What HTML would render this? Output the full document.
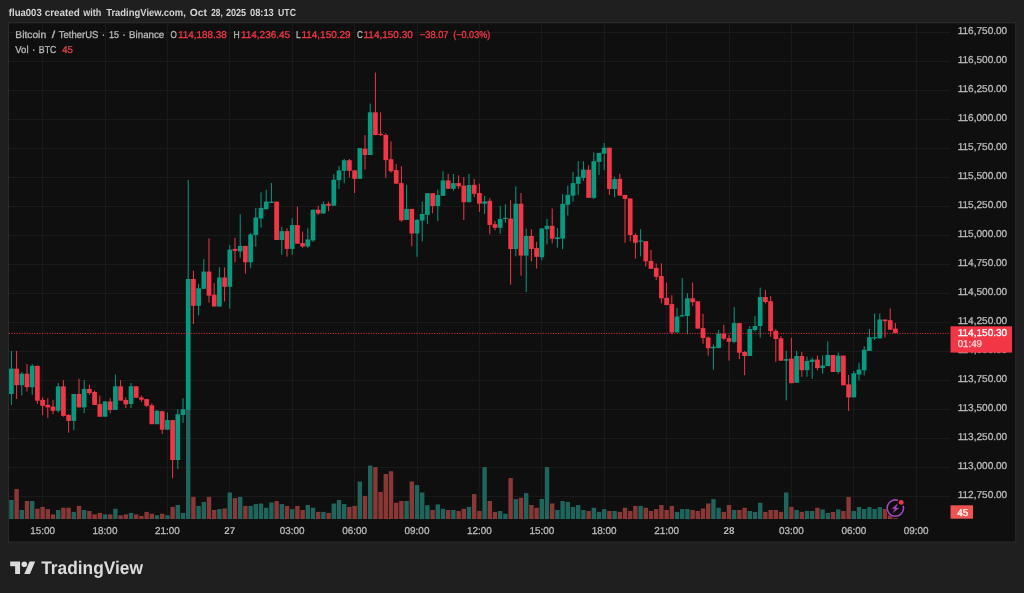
<!DOCTYPE html>
<html><head><meta charset="utf-8"><title>BTCUSDT chart</title>
<style>html,body{margin:0;padding:0;background:#1f1f1f;overflow:hidden}svg{display:block}text{font-family:"Liberation Sans",sans-serif;text-rendering:geometricPrecision}</style>
</head><body>
<svg width="1024" height="593" viewBox="0 0 1024 593">
<defs><filter id="soft" x="0" y="0" width="1024" height="593" filterUnits="userSpaceOnUse" color-interpolation-filters="sRGB"><feGaussianBlur stdDeviation="0.4"/></filter></defs>
<g filter="url(#soft)">
<rect x="-5" y="-5" width="1034" height="603" fill="#1f1f1f"/>
<rect x="8.4" y="22.8" width="1007.4" height="519.3" fill="#0f0f0f" stroke="#2e2e2e" stroke-width="1"/>
<g stroke="#1a1a1a" stroke-width="1" >
<line x1="9" y1="32.5" x2="950" y2="32.5"/>
<line x1="9" y1="61.5" x2="950" y2="61.5"/>
<line x1="9" y1="90.5" x2="950" y2="90.5"/>
<line x1="9" y1="119.5" x2="950" y2="119.5"/>
<line x1="9" y1="148.5" x2="950" y2="148.5"/>
<line x1="9" y1="177.5" x2="950" y2="177.5"/>
<line x1="9" y1="206.5" x2="950" y2="206.5"/>
<line x1="9" y1="235.5" x2="950" y2="235.5"/>
<line x1="9" y1="264.5" x2="950" y2="264.5"/>
<line x1="9" y1="293.5" x2="950" y2="293.5"/>
<line x1="9" y1="322.5" x2="950" y2="322.5"/>
<line x1="9" y1="351.5" x2="950" y2="351.5"/>
<line x1="9" y1="380.5" x2="950" y2="380.5"/>
<line x1="9" y1="409.5" x2="950" y2="409.5"/>
<line x1="9" y1="438.5" x2="950" y2="438.5"/>
<line x1="9" y1="467.5" x2="950" y2="467.5"/>
<line x1="9" y1="496.5" x2="950" y2="496.5"/>
<line x1="42.5" y1="24" x2="42.5" y2="519"/>
<line x1="105.5" y1="24" x2="105.5" y2="519"/>
<line x1="167.5" y1="24" x2="167.5" y2="519"/>
<line x1="229.5" y1="24" x2="229.5" y2="519"/>
<line x1="292.5" y1="24" x2="292.5" y2="519"/>
<line x1="354.5" y1="24" x2="354.5" y2="519"/>
<line x1="417.5" y1="24" x2="417.5" y2="519"/>
<line x1="479.5" y1="24" x2="479.5" y2="519"/>
<line x1="541.5" y1="24" x2="541.5" y2="519"/>
<line x1="604.5" y1="24" x2="604.5" y2="519"/>
<line x1="666.5" y1="24" x2="666.5" y2="519"/>
<line x1="729.5" y1="24" x2="729.5" y2="519"/>
<line x1="791.5" y1="24" x2="791.5" y2="519"/>
<line x1="853.5" y1="24" x2="853.5" y2="519"/>
<line x1="916.5" y1="24" x2="916.5" y2="519"/>
</g>
<g>
<rect x="9.20" y="500.00" width="4.40" height="19.00" fill="#1d655d"/>
<rect x="14.40" y="489.00" width="4.40" height="30.00" fill="#8a3836"/>
<rect x="19.60" y="510.00" width="4.40" height="9.00" fill="#1d655d"/>
<rect x="24.80" y="501.00" width="4.40" height="18.00" fill="#8a3836"/>
<rect x="30.00" y="501.00" width="4.40" height="18.00" fill="#1d655d"/>
<rect x="35.20" y="508.75" width="4.40" height="10.25" fill="#8a3836"/>
<rect x="40.40" y="506.90" width="4.40" height="12.10" fill="#8a3836"/>
<rect x="45.60" y="509.10" width="4.40" height="9.90" fill="#8a3836"/>
<rect x="50.80" y="514.40" width="4.40" height="4.60" fill="#8a3836"/>
<rect x="56.00" y="510.00" width="4.40" height="9.00" fill="#1d655d"/>
<rect x="61.20" y="507.75" width="4.40" height="11.25" fill="#8a3836"/>
<rect x="66.40" y="507.75" width="4.40" height="11.25" fill="#8a3836"/>
<rect x="71.60" y="511.90" width="4.40" height="7.10" fill="#1d655d"/>
<rect x="76.80" y="505.90" width="4.40" height="13.10" fill="#8a3836"/>
<rect x="82.00" y="510.00" width="4.40" height="9.00" fill="#1d655d"/>
<rect x="87.20" y="511.00" width="4.40" height="8.00" fill="#8a3836"/>
<rect x="92.40" y="514.40" width="4.40" height="4.60" fill="#8a3836"/>
<rect x="97.60" y="512.90" width="4.40" height="6.10" fill="#8a3836"/>
<rect x="102.80" y="514.40" width="4.40" height="4.60" fill="#1d655d"/>
<rect x="108.00" y="514.40" width="4.40" height="4.60" fill="#8a3836"/>
<rect x="113.20" y="508.75" width="4.40" height="10.25" fill="#1d655d"/>
<rect x="118.40" y="515.25" width="4.40" height="3.75" fill="#8a3836"/>
<rect x="123.60" y="514.40" width="4.40" height="4.60" fill="#8a3836"/>
<rect x="128.80" y="512.90" width="4.40" height="6.10" fill="#1d655d"/>
<rect x="134.00" y="514.40" width="4.40" height="4.60" fill="#8a3836"/>
<rect x="139.20" y="515.90" width="4.40" height="3.10" fill="#8a3836"/>
<rect x="144.40" y="511.90" width="4.40" height="7.10" fill="#8a3836"/>
<rect x="149.60" y="513.75" width="4.40" height="5.25" fill="#8a3836"/>
<rect x="154.80" y="515.25" width="4.40" height="3.75" fill="#1d655d"/>
<rect x="160.00" y="513.75" width="4.40" height="5.25" fill="#8a3836"/>
<rect x="165.20" y="515.25" width="4.40" height="3.75" fill="#1d655d"/>
<rect x="170.40" y="506.90" width="4.40" height="12.10" fill="#8a3836"/>
<rect x="175.60" y="505.00" width="4.40" height="14.00" fill="#1d655d"/>
<rect x="180.80" y="512.90" width="4.40" height="6.10" fill="#1d655d"/>
<rect x="186.00" y="410.00" width="4.40" height="109.00" fill="#1d655d"/>
<rect x="191.20" y="496.90" width="4.40" height="22.10" fill="#8a3836"/>
<rect x="196.40" y="505.90" width="4.40" height="13.10" fill="#1d655d"/>
<rect x="201.60" y="501.90" width="4.40" height="17.10" fill="#1d655d"/>
<rect x="206.80" y="496.90" width="4.40" height="22.10" fill="#8a3836"/>
<rect x="212.00" y="510.00" width="4.40" height="9.00" fill="#8a3836"/>
<rect x="217.20" y="509.10" width="4.40" height="9.90" fill="#1d655d"/>
<rect x="222.40" y="508.50" width="4.40" height="10.50" fill="#8a3836"/>
<rect x="227.60" y="492.50" width="4.40" height="26.50" fill="#1d655d"/>
<rect x="232.80" y="498.10" width="4.40" height="20.90" fill="#8a3836"/>
<rect x="238.00" y="496.90" width="4.40" height="22.10" fill="#1d655d"/>
<rect x="243.20" y="505.90" width="4.40" height="13.10" fill="#8a3836"/>
<rect x="248.40" y="505.90" width="4.40" height="13.10" fill="#1d655d"/>
<rect x="253.60" y="504.10" width="4.40" height="14.90" fill="#1d655d"/>
<rect x="258.80" y="503.50" width="4.40" height="15.50" fill="#1d655d"/>
<rect x="264.00" y="507.75" width="4.40" height="11.25" fill="#1d655d"/>
<rect x="269.20" y="502.50" width="4.40" height="16.50" fill="#1d655d"/>
<rect x="274.40" y="501.00" width="4.40" height="18.00" fill="#8a3836"/>
<rect x="279.60" y="504.10" width="4.40" height="14.90" fill="#1d655d"/>
<rect x="284.80" y="505.90" width="4.40" height="13.10" fill="#8a3836"/>
<rect x="290.00" y="509.10" width="4.40" height="9.90" fill="#1d655d"/>
<rect x="295.20" y="505.90" width="4.40" height="13.10" fill="#8a3836"/>
<rect x="300.40" y="510.00" width="4.40" height="9.00" fill="#8a3836"/>
<rect x="305.60" y="505.00" width="4.40" height="14.00" fill="#1d655d"/>
<rect x="310.80" y="507.75" width="4.40" height="11.25" fill="#1d655d"/>
<rect x="316.00" y="511.90" width="4.40" height="7.10" fill="#8a3836"/>
<rect x="321.20" y="511.90" width="4.40" height="7.10" fill="#1d655d"/>
<rect x="326.40" y="512.90" width="4.40" height="6.10" fill="#8a3836"/>
<rect x="331.60" y="503.50" width="4.40" height="15.50" fill="#1d655d"/>
<rect x="336.80" y="500.00" width="4.40" height="19.00" fill="#1d655d"/>
<rect x="342.00" y="504.10" width="4.40" height="14.90" fill="#1d655d"/>
<rect x="347.20" y="506.90" width="4.40" height="12.10" fill="#8a3836"/>
<rect x="352.40" y="505.90" width="4.40" height="13.10" fill="#8a3836"/>
<rect x="357.60" y="481.50" width="4.40" height="37.50" fill="#1d655d"/>
<rect x="362.80" y="495.90" width="4.40" height="23.10" fill="#8a3836"/>
<rect x="368.00" y="465.60" width="4.40" height="53.40" fill="#1d655d"/>
<rect x="373.20" y="467.10" width="4.40" height="51.90" fill="#8a3836"/>
<rect x="378.40" y="491.90" width="4.40" height="27.10" fill="#8a3836"/>
<rect x="383.60" y="474.00" width="4.40" height="45.00" fill="#8a3836"/>
<rect x="388.80" y="471.25" width="4.40" height="47.75" fill="#8a3836"/>
<rect x="394.00" y="502.75" width="4.40" height="16.25" fill="#8a3836"/>
<rect x="399.20" y="501.00" width="4.40" height="18.00" fill="#8a3836"/>
<rect x="404.40" y="501.00" width="4.40" height="18.00" fill="#1d655d"/>
<rect x="409.60" y="481.50" width="4.40" height="37.50" fill="#8a3836"/>
<rect x="414.80" y="485.00" width="4.40" height="34.00" fill="#1d655d"/>
<rect x="420.00" y="492.50" width="4.40" height="26.50" fill="#1d655d"/>
<rect x="425.20" y="505.25" width="4.40" height="13.75" fill="#1d655d"/>
<rect x="430.40" y="510.00" width="4.40" height="9.00" fill="#8a3836"/>
<rect x="435.60" y="504.40" width="4.40" height="14.60" fill="#1d655d"/>
<rect x="440.80" y="508.75" width="4.40" height="10.25" fill="#1d655d"/>
<rect x="446.00" y="510.00" width="4.40" height="9.00" fill="#8a3836"/>
<rect x="451.20" y="510.00" width="4.40" height="9.00" fill="#1d655d"/>
<rect x="456.40" y="511.00" width="4.40" height="8.00" fill="#8a3836"/>
<rect x="461.60" y="508.75" width="4.40" height="10.25" fill="#8a3836"/>
<rect x="466.80" y="506.90" width="4.40" height="12.10" fill="#1d655d"/>
<rect x="472.00" y="494.10" width="4.40" height="24.90" fill="#8a3836"/>
<rect x="477.20" y="511.00" width="4.40" height="8.00" fill="#8a3836"/>
<rect x="482.40" y="467.10" width="4.40" height="51.90" fill="#1d655d"/>
<rect x="487.60" y="501.00" width="4.40" height="18.00" fill="#8a3836"/>
<rect x="492.80" y="511.90" width="4.40" height="7.10" fill="#8a3836"/>
<rect x="498.00" y="511.00" width="4.40" height="8.00" fill="#1d655d"/>
<rect x="503.20" y="513.75" width="4.40" height="5.25" fill="#1d655d"/>
<rect x="508.40" y="478.10" width="4.40" height="40.90" fill="#8a3836"/>
<rect x="513.60" y="499.10" width="4.40" height="19.90" fill="#1d655d"/>
<rect x="518.80" y="497.75" width="4.40" height="21.25" fill="#8a3836"/>
<rect x="524.00" y="493.10" width="4.40" height="25.90" fill="#1d655d"/>
<rect x="529.20" y="505.00" width="4.40" height="14.00" fill="#8a3836"/>
<rect x="534.40" y="507.75" width="4.40" height="11.25" fill="#8a3836"/>
<rect x="539.60" y="499.00" width="4.40" height="20.00" fill="#1d655d"/>
<rect x="544.80" y="467.10" width="4.40" height="51.90" fill="#1d655d"/>
<rect x="550.00" y="503.50" width="4.40" height="15.50" fill="#8a3836"/>
<rect x="555.20" y="510.00" width="4.40" height="9.00" fill="#1d655d"/>
<rect x="560.40" y="501.00" width="4.40" height="18.00" fill="#1d655d"/>
<rect x="565.60" y="501.90" width="4.40" height="17.10" fill="#1d655d"/>
<rect x="570.80" y="506.90" width="4.40" height="12.10" fill="#1d655d"/>
<rect x="576.00" y="505.00" width="4.40" height="14.00" fill="#1d655d"/>
<rect x="581.20" y="510.00" width="4.40" height="9.00" fill="#1d655d"/>
<rect x="586.40" y="511.00" width="4.40" height="8.00" fill="#8a3836"/>
<rect x="591.60" y="507.75" width="4.40" height="11.25" fill="#1d655d"/>
<rect x="596.80" y="511.90" width="4.40" height="7.10" fill="#1d655d"/>
<rect x="602.00" y="509.10" width="4.40" height="9.90" fill="#1d655d"/>
<rect x="607.20" y="511.00" width="4.40" height="8.00" fill="#8a3836"/>
<rect x="612.40" y="511.00" width="4.40" height="8.00" fill="#1d655d"/>
<rect x="617.60" y="511.90" width="4.40" height="7.10" fill="#8a3836"/>
<rect x="622.80" y="507.75" width="4.40" height="11.25" fill="#8a3836"/>
<rect x="628.00" y="511.00" width="4.40" height="8.00" fill="#8a3836"/>
<rect x="633.20" y="505.90" width="4.40" height="13.10" fill="#8a3836"/>
<rect x="638.40" y="505.90" width="4.40" height="13.10" fill="#1d655d"/>
<rect x="643.60" y="507.75" width="4.40" height="11.25" fill="#8a3836"/>
<rect x="648.80" y="511.00" width="4.40" height="8.00" fill="#8a3836"/>
<rect x="654.00" y="509.10" width="4.40" height="9.90" fill="#8a3836"/>
<rect x="659.20" y="505.00" width="4.40" height="14.00" fill="#8a3836"/>
<rect x="664.40" y="510.00" width="4.40" height="9.00" fill="#8a3836"/>
<rect x="669.60" y="505.90" width="4.40" height="13.10" fill="#8a3836"/>
<rect x="674.80" y="511.90" width="4.40" height="7.10" fill="#1d655d"/>
<rect x="680.00" y="509.10" width="4.40" height="9.90" fill="#1d655d"/>
<rect x="685.20" y="509.10" width="4.40" height="9.90" fill="#1d655d"/>
<rect x="690.40" y="510.00" width="4.40" height="9.00" fill="#8a3836"/>
<rect x="695.60" y="511.00" width="4.40" height="8.00" fill="#8a3836"/>
<rect x="700.80" y="508.50" width="4.40" height="10.50" fill="#8a3836"/>
<rect x="706.00" y="503.50" width="4.40" height="15.50" fill="#8a3836"/>
<rect x="711.20" y="499.10" width="4.40" height="19.90" fill="#1d655d"/>
<rect x="716.40" y="507.75" width="4.40" height="11.25" fill="#1d655d"/>
<rect x="721.60" y="511.90" width="4.40" height="7.10" fill="#8a3836"/>
<rect x="726.80" y="505.00" width="4.40" height="14.00" fill="#8a3836"/>
<rect x="732.00" y="510.00" width="4.40" height="9.00" fill="#1d655d"/>
<rect x="737.20" y="510.00" width="4.40" height="9.00" fill="#8a3836"/>
<rect x="742.40" y="507.75" width="4.40" height="11.25" fill="#8a3836"/>
<rect x="747.60" y="511.00" width="4.40" height="8.00" fill="#1d655d"/>
<rect x="752.80" y="511.90" width="4.40" height="7.10" fill="#1d655d"/>
<rect x="758.00" y="502.75" width="4.40" height="16.25" fill="#1d655d"/>
<rect x="763.20" y="511.90" width="4.40" height="7.10" fill="#8a3836"/>
<rect x="768.40" y="510.00" width="4.40" height="9.00" fill="#8a3836"/>
<rect x="773.60" y="510.00" width="4.40" height="9.00" fill="#8a3836"/>
<rect x="778.80" y="511.90" width="4.40" height="7.10" fill="#8a3836"/>
<rect x="784.00" y="492.50" width="4.40" height="26.50" fill="#1d655d"/>
<rect x="789.20" y="506.90" width="4.40" height="12.10" fill="#8a3836"/>
<rect x="794.40" y="510.00" width="4.40" height="9.00" fill="#1d655d"/>
<rect x="799.60" y="511.90" width="4.40" height="7.10" fill="#8a3836"/>
<rect x="804.80" y="511.00" width="4.40" height="8.00" fill="#1d655d"/>
<rect x="810.00" y="511.00" width="4.40" height="8.00" fill="#1d655d"/>
<rect x="815.20" y="507.75" width="4.40" height="11.25" fill="#8a3836"/>
<rect x="820.40" y="509.40" width="4.40" height="9.60" fill="#1d655d"/>
<rect x="825.60" y="513.00" width="4.40" height="6.00" fill="#1d655d"/>
<rect x="830.80" y="512.00" width="4.40" height="7.00" fill="#8a3836"/>
<rect x="836.00" y="509.40" width="4.40" height="9.60" fill="#1d655d"/>
<rect x="841.20" y="511.00" width="4.40" height="8.00" fill="#8a3836"/>
<rect x="846.40" y="497.00" width="4.40" height="22.00" fill="#8a3836"/>
<rect x="851.60" y="511.00" width="4.40" height="8.00" fill="#1d655d"/>
<rect x="856.80" y="507.00" width="4.40" height="12.00" fill="#1d655d"/>
<rect x="862.00" y="509.00" width="4.40" height="10.00" fill="#1d655d"/>
<rect x="867.20" y="507.10" width="4.40" height="11.90" fill="#1d655d"/>
<rect x="872.40" y="509.00" width="4.40" height="10.00" fill="#1d655d"/>
<rect x="877.60" y="507.10" width="4.40" height="11.90" fill="#1d655d"/>
<rect x="882.80" y="509.00" width="4.40" height="10.00" fill="#8a3836"/>
<rect x="888.00" y="515.25" width="4.40" height="3.75" fill="#8a3836"/>
<rect x="893.20" y="518.10" width="4.40" height="0.90" fill="#8a3836"/>
</g>
<g>
<rect x="10.90" y="351.00" width="1" height="54.00" fill="#089981"/>
<rect x="9.05" y="368.70" width="4.70" height="25.30" fill="#089981"/>
<rect x="16.10" y="351.00" width="1" height="48.00" fill="#f23645"/>
<rect x="14.25" y="368.70" width="4.70" height="16.50" fill="#f23645"/>
<rect x="21.30" y="372.00" width="1" height="23.60" fill="#089981"/>
<rect x="19.45" y="373.70" width="4.70" height="11.50" fill="#089981"/>
<rect x="26.50" y="364.00" width="1" height="27.40" fill="#f23645"/>
<rect x="24.65" y="373.70" width="4.70" height="13.50" fill="#f23645"/>
<rect x="31.70" y="364.00" width="1" height="30.80" fill="#089981"/>
<rect x="29.85" y="365.80" width="4.70" height="21.40" fill="#089981"/>
<rect x="36.90" y="365.80" width="1" height="38.20" fill="#f23645"/>
<rect x="35.05" y="365.80" width="4.70" height="34.90" fill="#f23645"/>
<rect x="42.10" y="397.30" width="1" height="17.70" fill="#f23645"/>
<rect x="40.25" y="399.90" width="4.70" height="5.90" fill="#f23645"/>
<rect x="47.30" y="398.20" width="1" height="19.70" fill="#f23645"/>
<rect x="45.45" y="404.90" width="4.70" height="2.50" fill="#f23645"/>
<rect x="52.50" y="399.90" width="1" height="14.30" fill="#f23645"/>
<rect x="50.65" y="406.60" width="4.70" height="4.20" fill="#f23645"/>
<rect x="57.70" y="383.00" width="1" height="29.50" fill="#089981"/>
<rect x="55.85" y="386.40" width="4.70" height="24.40" fill="#089981"/>
<rect x="62.90" y="380.10" width="1" height="36.60" fill="#f23645"/>
<rect x="61.05" y="386.40" width="4.70" height="29.50" fill="#f23645"/>
<rect x="68.10" y="414.20" width="1" height="18.50" fill="#f23645"/>
<rect x="66.25" y="415.00" width="4.70" height="5.90" fill="#f23645"/>
<rect x="73.30" y="394.00" width="1" height="36.20" fill="#089981"/>
<rect x="71.45" y="394.00" width="4.70" height="26.90" fill="#089981"/>
<rect x="78.50" y="378.80" width="1" height="28.60" fill="#f23645"/>
<rect x="76.65" y="394.00" width="4.70" height="13.40" fill="#f23645"/>
<rect x="83.70" y="380.10" width="1" height="33.20" fill="#089981"/>
<rect x="81.85" y="388.90" width="4.70" height="18.50" fill="#089981"/>
<rect x="88.90" y="384.70" width="1" height="10.10" fill="#f23645"/>
<rect x="87.05" y="388.90" width="4.70" height="4.20" fill="#f23645"/>
<rect x="94.10" y="390.60" width="1" height="14.30" fill="#f23645"/>
<rect x="92.25" y="391.90" width="4.70" height="13.00" fill="#f23645"/>
<rect x="99.30" y="395.60" width="1" height="21.10" fill="#f23645"/>
<rect x="97.45" y="404.10" width="4.70" height="12.60" fill="#f23645"/>
<rect x="104.50" y="401.00" width="1" height="15.70" fill="#089981"/>
<rect x="102.65" y="401.50" width="4.70" height="15.20" fill="#089981"/>
<rect x="109.70" y="398.20" width="1" height="15.10" fill="#f23645"/>
<rect x="107.85" y="401.50" width="4.70" height="8.50" fill="#f23645"/>
<rect x="114.90" y="374.60" width="1" height="35.30" fill="#089981"/>
<rect x="113.05" y="386.30" width="4.70" height="23.60" fill="#089981"/>
<rect x="120.10" y="380.20" width="1" height="20.40" fill="#f23645"/>
<rect x="118.25" y="386.30" width="4.70" height="14.30" fill="#f23645"/>
<rect x="125.30" y="397.50" width="1" height="10.50" fill="#f23645"/>
<rect x="123.45" y="400.00" width="4.70" height="4.30" fill="#f23645"/>
<rect x="130.50" y="383.00" width="1" height="25.00" fill="#089981"/>
<rect x="128.65" y="386.30" width="4.70" height="17.70" fill="#089981"/>
<rect x="135.70" y="386.30" width="1" height="11.50" fill="#f23645"/>
<rect x="133.85" y="386.30" width="4.70" height="11.50" fill="#f23645"/>
<rect x="140.90" y="395.60" width="1" height="6.40" fill="#f23645"/>
<rect x="139.05" y="397.50" width="4.70" height="2.20" fill="#f23645"/>
<rect x="146.10" y="398.80" width="1" height="8.30" fill="#f23645"/>
<rect x="144.25" y="399.10" width="4.70" height="6.70" fill="#f23645"/>
<rect x="151.30" y="403.40" width="1" height="20.80" fill="#f23645"/>
<rect x="149.45" y="405.30" width="4.70" height="18.90" fill="#f23645"/>
<rect x="156.50" y="409.90" width="1" height="14.30" fill="#089981"/>
<rect x="154.65" y="410.80" width="4.70" height="13.40" fill="#089981"/>
<rect x="161.70" y="410.80" width="1" height="23.20" fill="#f23645"/>
<rect x="159.85" y="411.20" width="4.70" height="18.50" fill="#f23645"/>
<rect x="166.90" y="412.30" width="1" height="17.40" fill="#089981"/>
<rect x="165.05" y="420.10" width="4.70" height="9.60" fill="#089981"/>
<rect x="172.10" y="420.10" width="1" height="58.10" fill="#f23645"/>
<rect x="170.25" y="420.10" width="4.70" height="39.90" fill="#f23645"/>
<rect x="177.30" y="409.00" width="1" height="59.90" fill="#089981"/>
<rect x="175.45" y="414.20" width="4.70" height="45.80" fill="#089981"/>
<rect x="182.50" y="398.20" width="1" height="24.70" fill="#089981"/>
<rect x="180.65" y="409.30" width="4.70" height="5.60" fill="#089981"/>
<rect x="187.70" y="180.10" width="1" height="229.80" fill="#089981"/>
<rect x="185.85" y="279.00" width="4.70" height="130.90" fill="#089981"/>
<rect x="192.90" y="270.70" width="1" height="53.30" fill="#f23645"/>
<rect x="191.05" y="279.00" width="4.70" height="26.80" fill="#f23645"/>
<rect x="198.10" y="283.80" width="1" height="31.60" fill="#089981"/>
<rect x="196.25" y="288.30" width="4.70" height="17.50" fill="#089981"/>
<rect x="203.30" y="259.00" width="1" height="29.80" fill="#089981"/>
<rect x="201.45" y="271.60" width="4.70" height="17.20" fill="#089981"/>
<rect x="208.50" y="238.30" width="1" height="64.40" fill="#f23645"/>
<rect x="206.65" y="271.60" width="4.70" height="24.10" fill="#f23645"/>
<rect x="213.70" y="283.30" width="1" height="23.20" fill="#f23645"/>
<rect x="211.85" y="294.70" width="4.70" height="11.80" fill="#f23645"/>
<rect x="218.90" y="267.30" width="1" height="39.20" fill="#089981"/>
<rect x="217.05" y="277.50" width="4.70" height="29.00" fill="#089981"/>
<rect x="224.10" y="267.30" width="1" height="34.20" fill="#f23645"/>
<rect x="222.25" y="277.50" width="4.70" height="9.30" fill="#f23645"/>
<rect x="229.30" y="245.10" width="1" height="63.50" fill="#089981"/>
<rect x="227.45" y="249.60" width="4.70" height="37.20" fill="#089981"/>
<rect x="234.50" y="237.80" width="1" height="24.50" fill="#f23645"/>
<rect x="232.65" y="248.90" width="4.70" height="2.00" fill="#f23645"/>
<rect x="239.70" y="214.20" width="1" height="43.50" fill="#089981"/>
<rect x="237.85" y="245.90" width="4.70" height="5.50" fill="#089981"/>
<rect x="244.90" y="245.90" width="1" height="27.80" fill="#f23645"/>
<rect x="243.05" y="245.90" width="4.70" height="16.40" fill="#f23645"/>
<rect x="250.10" y="233.20" width="1" height="34.90" fill="#089981"/>
<rect x="248.25" y="234.50" width="4.70" height="27.80" fill="#089981"/>
<rect x="255.30" y="207.90" width="1" height="38.70" fill="#089981"/>
<rect x="253.45" y="217.50" width="4.70" height="17.50" fill="#089981"/>
<rect x="260.50" y="192.30" width="1" height="35.30" fill="#089981"/>
<rect x="258.65" y="207.90" width="4.70" height="10.60" fill="#089981"/>
<rect x="265.70" y="189.70" width="1" height="19.50" fill="#089981"/>
<rect x="263.85" y="201.60" width="4.70" height="7.60" fill="#089981"/>
<rect x="270.90" y="183.00" width="1" height="19.90" fill="#089981"/>
<rect x="269.05" y="201.60" width="4.70" height="1.30" fill="#089981"/>
<rect x="276.10" y="201.60" width="1" height="38.40" fill="#f23645"/>
<rect x="274.25" y="201.60" width="4.70" height="38.40" fill="#f23645"/>
<rect x="281.30" y="227.00" width="1" height="27.80" fill="#089981"/>
<rect x="279.45" y="231.10" width="4.70" height="8.90" fill="#089981"/>
<rect x="286.50" y="228.30" width="1" height="28.40" fill="#f23645"/>
<rect x="284.65" y="231.10" width="4.70" height="17.80" fill="#f23645"/>
<rect x="291.70" y="218.30" width="1" height="36.50" fill="#089981"/>
<rect x="289.85" y="225.10" width="4.70" height="23.80" fill="#089981"/>
<rect x="296.90" y="206.60" width="1" height="37.10" fill="#f23645"/>
<rect x="295.05" y="225.10" width="4.70" height="18.60" fill="#f23645"/>
<rect x="302.10" y="231.60" width="1" height="16.20" fill="#f23645"/>
<rect x="300.25" y="243.10" width="4.70" height="3.40" fill="#f23645"/>
<rect x="307.30" y="228.30" width="1" height="19.50" fill="#089981"/>
<rect x="305.45" y="239.40" width="4.70" height="7.10" fill="#089981"/>
<rect x="312.50" y="209.70" width="1" height="32.10" fill="#089981"/>
<rect x="310.65" y="209.70" width="4.70" height="30.70" fill="#089981"/>
<rect x="317.70" y="205.70" width="1" height="9.20" fill="#f23645"/>
<rect x="315.85" y="209.70" width="4.70" height="3.80" fill="#f23645"/>
<rect x="322.90" y="201.60" width="1" height="11.90" fill="#089981"/>
<rect x="321.05" y="204.20" width="4.70" height="9.30" fill="#089981"/>
<rect x="328.10" y="201.60" width="1" height="9.60" fill="#f23645"/>
<rect x="326.25" y="203.80" width="4.70" height="1.90" fill="#f23645"/>
<rect x="333.30" y="174.10" width="1" height="31.60" fill="#089981"/>
<rect x="331.45" y="179.70" width="4.70" height="26.00" fill="#089981"/>
<rect x="338.50" y="165.80" width="1" height="23.20" fill="#089981"/>
<rect x="336.65" y="170.40" width="4.70" height="9.80" fill="#089981"/>
<rect x="343.70" y="158.90" width="1" height="24.50" fill="#089981"/>
<rect x="341.85" y="160.20" width="4.70" height="10.60" fill="#089981"/>
<rect x="348.90" y="158.90" width="1" height="18.60" fill="#f23645"/>
<rect x="347.05" y="160.20" width="4.70" height="10.60" fill="#f23645"/>
<rect x="354.10" y="170.00" width="1" height="23.00" fill="#f23645"/>
<rect x="352.25" y="170.40" width="4.70" height="8.40" fill="#f23645"/>
<rect x="359.30" y="148.10" width="1" height="30.70" fill="#089981"/>
<rect x="357.45" y="148.10" width="4.70" height="30.70" fill="#089981"/>
<rect x="364.50" y="135.10" width="1" height="34.40" fill="#f23645"/>
<rect x="362.65" y="148.70" width="4.70" height="6.30" fill="#f23645"/>
<rect x="369.70" y="103.60" width="1" height="51.40" fill="#089981"/>
<rect x="367.85" y="112.30" width="4.70" height="42.70" fill="#089981"/>
<rect x="374.90" y="72.60" width="1" height="62.50" fill="#f23645"/>
<rect x="373.05" y="112.30" width="4.70" height="22.80" fill="#f23645"/>
<rect x="380.10" y="112.30" width="1" height="23.40" fill="#f23645"/>
<rect x="378.25" y="133.80" width="4.70" height="1.30" fill="#f23645"/>
<rect x="385.30" y="133.30" width="1" height="44.50" fill="#f23645"/>
<rect x="383.45" y="135.00" width="4.70" height="25.10" fill="#f23645"/>
<rect x="390.50" y="141.50" width="1" height="31.30" fill="#f23645"/>
<rect x="388.65" y="159.20" width="4.70" height="12.00" fill="#f23645"/>
<rect x="395.70" y="164.10" width="1" height="19.60" fill="#f23645"/>
<rect x="393.85" y="170.10" width="4.70" height="13.60" fill="#f23645"/>
<rect x="400.90" y="166.20" width="1" height="55.50" fill="#f23645"/>
<rect x="399.05" y="183.10" width="4.70" height="37.30" fill="#f23645"/>
<rect x="406.10" y="184.80" width="1" height="35.10" fill="#089981"/>
<rect x="404.25" y="208.90" width="4.70" height="11.00" fill="#089981"/>
<rect x="411.30" y="208.90" width="1" height="37.30" fill="#f23645"/>
<rect x="409.45" y="208.90" width="4.70" height="24.60" fill="#f23645"/>
<rect x="416.50" y="219.00" width="1" height="37.80" fill="#089981"/>
<rect x="414.65" y="219.90" width="4.70" height="13.60" fill="#089981"/>
<rect x="421.70" y="201.30" width="1" height="40.10" fill="#089981"/>
<rect x="419.85" y="214.00" width="4.70" height="6.60" fill="#089981"/>
<rect x="426.90" y="193.20" width="1" height="30.70" fill="#089981"/>
<rect x="425.05" y="193.20" width="4.70" height="21.70" fill="#089981"/>
<rect x="432.10" y="193.20" width="1" height="20.10" fill="#f23645"/>
<rect x="430.25" y="193.20" width="4.70" height="12.90" fill="#f23645"/>
<rect x="437.30" y="189.60" width="1" height="31.40" fill="#089981"/>
<rect x="435.45" y="195.10" width="4.70" height="11.00" fill="#089981"/>
<rect x="442.50" y="171.20" width="1" height="24.60" fill="#089981"/>
<rect x="440.65" y="180.40" width="4.70" height="15.40" fill="#089981"/>
<rect x="447.70" y="173.90" width="1" height="14.90" fill="#f23645"/>
<rect x="445.85" y="180.40" width="4.70" height="8.40" fill="#f23645"/>
<rect x="452.90" y="174.00" width="1" height="16.80" fill="#089981"/>
<rect x="451.05" y="183.10" width="4.70" height="5.70" fill="#089981"/>
<rect x="458.10" y="175.30" width="1" height="13.70" fill="#f23645"/>
<rect x="456.25" y="183.10" width="4.70" height="3.20" fill="#f23645"/>
<rect x="463.30" y="177.00" width="1" height="43.00" fill="#f23645"/>
<rect x="461.45" y="185.70" width="4.70" height="16.50" fill="#f23645"/>
<rect x="468.50" y="173.80" width="1" height="28.40" fill="#089981"/>
<rect x="466.65" y="185.00" width="4.70" height="17.20" fill="#089981"/>
<rect x="473.70" y="178.90" width="1" height="18.40" fill="#f23645"/>
<rect x="471.85" y="184.80" width="4.70" height="9.00" fill="#f23645"/>
<rect x="478.90" y="183.60" width="1" height="28.30" fill="#f23645"/>
<rect x="477.05" y="193.00" width="4.70" height="10.70" fill="#f23645"/>
<rect x="484.10" y="195.90" width="1" height="17.90" fill="#089981"/>
<rect x="482.25" y="201.30" width="4.70" height="2.40" fill="#089981"/>
<rect x="489.30" y="198.20" width="1" height="36.20" fill="#f23645"/>
<rect x="487.45" y="200.80" width="4.70" height="24.10" fill="#f23645"/>
<rect x="494.50" y="220.90" width="1" height="9.20" fill="#f23645"/>
<rect x="492.65" y="224.20" width="4.70" height="3.60" fill="#f23645"/>
<rect x="499.70" y="206.00" width="1" height="27.70" fill="#089981"/>
<rect x="497.85" y="219.00" width="4.70" height="8.80" fill="#089981"/>
<rect x="504.90" y="204.10" width="1" height="18.50" fill="#089981"/>
<rect x="503.05" y="217.80" width="4.70" height="1.20" fill="#089981"/>
<rect x="510.10" y="200.10" width="1" height="84.50" fill="#f23645"/>
<rect x="508.25" y="218.50" width="4.70" height="30.50" fill="#f23645"/>
<rect x="515.30" y="186.40" width="1" height="69.90" fill="#089981"/>
<rect x="513.45" y="203.70" width="4.70" height="45.30" fill="#089981"/>
<rect x="520.50" y="193.00" width="1" height="82.70" fill="#f23645"/>
<rect x="518.65" y="203.70" width="4.70" height="51.90" fill="#f23645"/>
<rect x="525.70" y="228.50" width="1" height="63.70" fill="#089981"/>
<rect x="523.85" y="236.00" width="4.70" height="19.60" fill="#089981"/>
<rect x="530.90" y="229.20" width="1" height="32.30" fill="#f23645"/>
<rect x="529.05" y="236.00" width="4.70" height="13.00" fill="#f23645"/>
<rect x="536.10" y="241.90" width="1" height="26.70" fill="#f23645"/>
<rect x="534.25" y="248.10" width="4.70" height="8.70" fill="#f23645"/>
<rect x="541.30" y="228.00" width="1" height="32.30" fill="#089981"/>
<rect x="539.45" y="228.50" width="4.70" height="28.80" fill="#089981"/>
<rect x="546.50" y="219.00" width="1" height="25.40" fill="#089981"/>
<rect x="544.65" y="225.80" width="4.70" height="3.40" fill="#089981"/>
<rect x="551.70" y="208.50" width="1" height="35.00" fill="#f23645"/>
<rect x="549.85" y="225.80" width="4.70" height="12.80" fill="#f23645"/>
<rect x="556.90" y="228.00" width="1" height="19.70" fill="#089981"/>
<rect x="555.05" y="237.40" width="4.70" height="1.70" fill="#089981"/>
<rect x="562.10" y="194.20" width="1" height="55.00" fill="#089981"/>
<rect x="560.25" y="203.90" width="4.70" height="34.70" fill="#089981"/>
<rect x="567.30" y="185.50" width="1" height="30.00" fill="#089981"/>
<rect x="565.45" y="194.90" width="4.70" height="9.90" fill="#089981"/>
<rect x="572.50" y="172.00" width="1" height="29.50" fill="#089981"/>
<rect x="570.65" y="183.10" width="4.70" height="12.50" fill="#089981"/>
<rect x="577.70" y="161.20" width="1" height="33.70" fill="#089981"/>
<rect x="575.85" y="176.70" width="4.70" height="7.10" fill="#089981"/>
<rect x="582.90" y="161.20" width="1" height="19.60" fill="#089981"/>
<rect x="581.05" y="169.70" width="4.70" height="8.20" fill="#089981"/>
<rect x="588.10" y="165.40" width="1" height="32.40" fill="#f23645"/>
<rect x="586.25" y="169.70" width="4.70" height="28.10" fill="#f23645"/>
<rect x="593.30" y="152.40" width="1" height="46.60" fill="#089981"/>
<rect x="591.45" y="161.20" width="4.70" height="36.60" fill="#089981"/>
<rect x="598.50" y="152.90" width="1" height="22.00" fill="#089981"/>
<rect x="596.65" y="152.90" width="4.70" height="9.00" fill="#089981"/>
<rect x="603.70" y="143.00" width="1" height="27.10" fill="#089981"/>
<rect x="601.85" y="147.70" width="4.70" height="5.90" fill="#089981"/>
<rect x="608.90" y="147.70" width="1" height="47.20" fill="#f23645"/>
<rect x="607.05" y="147.70" width="4.70" height="41.30" fill="#f23645"/>
<rect x="614.10" y="176.70" width="1" height="20.60" fill="#089981"/>
<rect x="612.25" y="179.10" width="4.70" height="9.90" fill="#089981"/>
<rect x="619.30" y="173.70" width="1" height="21.90" fill="#f23645"/>
<rect x="617.45" y="178.90" width="4.70" height="16.70" fill="#f23645"/>
<rect x="624.50" y="194.90" width="1" height="47.90" fill="#f23645"/>
<rect x="622.65" y="194.90" width="4.70" height="4.00" fill="#f23645"/>
<rect x="629.70" y="198.50" width="1" height="42.90" fill="#f23645"/>
<rect x="627.85" y="198.50" width="4.70" height="36.50" fill="#f23645"/>
<rect x="634.90" y="233.40" width="1" height="25.30" fill="#f23645"/>
<rect x="633.05" y="235.00" width="4.70" height="7.80" fill="#f23645"/>
<rect x="640.10" y="229.20" width="1" height="27.10" fill="#089981"/>
<rect x="638.25" y="240.50" width="4.70" height="1.20" fill="#089981"/>
<rect x="645.30" y="241.00" width="1" height="25.50" fill="#f23645"/>
<rect x="643.45" y="241.20" width="4.70" height="20.10" fill="#f23645"/>
<rect x="650.50" y="250.00" width="1" height="18.80" fill="#f23645"/>
<rect x="648.65" y="260.90" width="4.70" height="7.90" fill="#f23645"/>
<rect x="655.70" y="263.40" width="1" height="16.40" fill="#f23645"/>
<rect x="653.85" y="267.90" width="4.70" height="8.90" fill="#f23645"/>
<rect x="660.90" y="263.40" width="1" height="39.90" fill="#f23645"/>
<rect x="659.05" y="276.00" width="4.70" height="22.30" fill="#f23645"/>
<rect x="666.10" y="282.60" width="1" height="22.50" fill="#f23645"/>
<rect x="664.25" y="297.80" width="4.70" height="7.30" fill="#f23645"/>
<rect x="671.30" y="295.20" width="1" height="39.00" fill="#f23645"/>
<rect x="669.45" y="304.10" width="4.70" height="28.30" fill="#f23645"/>
<rect x="676.50" y="307.90" width="1" height="24.50" fill="#089981"/>
<rect x="674.65" y="316.50" width="4.70" height="15.90" fill="#089981"/>
<rect x="681.70" y="278.00" width="1" height="38.50" fill="#089981"/>
<rect x="679.85" y="315.20" width="4.70" height="1.30" fill="#089981"/>
<rect x="686.90" y="293.20" width="1" height="41.00" fill="#089981"/>
<rect x="685.05" y="298.30" width="4.70" height="17.70" fill="#089981"/>
<rect x="692.10" y="282.60" width="1" height="23.30" fill="#f23645"/>
<rect x="690.25" y="298.30" width="4.70" height="3.80" fill="#f23645"/>
<rect x="697.30" y="301.30" width="1" height="27.30" fill="#f23645"/>
<rect x="695.45" y="301.30" width="4.70" height="27.30" fill="#f23645"/>
<rect x="702.50" y="313.90" width="1" height="29.90" fill="#f23645"/>
<rect x="700.65" y="328.10" width="4.70" height="9.90" fill="#f23645"/>
<rect x="707.70" y="336.50" width="1" height="19.20" fill="#f23645"/>
<rect x="705.85" y="337.50" width="4.70" height="10.80" fill="#f23645"/>
<rect x="712.90" y="344.30" width="1" height="25.50" fill="#089981"/>
<rect x="711.05" y="346.80" width="4.70" height="1.50" fill="#089981"/>
<rect x="718.10" y="329.90" width="1" height="18.20" fill="#089981"/>
<rect x="716.25" y="333.70" width="4.70" height="14.40" fill="#089981"/>
<rect x="723.30" y="324.80" width="1" height="15.20" fill="#f23645"/>
<rect x="721.45" y="333.70" width="4.70" height="5.00" fill="#f23645"/>
<rect x="728.50" y="334.90" width="1" height="25.80" fill="#f23645"/>
<rect x="726.65" y="338.20" width="4.70" height="3.60" fill="#f23645"/>
<rect x="733.70" y="307.10" width="1" height="36.20" fill="#089981"/>
<rect x="731.85" y="323.10" width="4.70" height="18.80" fill="#089981"/>
<rect x="738.90" y="323.10" width="1" height="36.00" fill="#f23645"/>
<rect x="737.05" y="323.10" width="4.70" height="29.60" fill="#f23645"/>
<rect x="744.10" y="350.90" width="1" height="24.30" fill="#f23645"/>
<rect x="742.25" y="352.00" width="4.70" height="4.00" fill="#f23645"/>
<rect x="749.30" y="326.00" width="1" height="30.00" fill="#089981"/>
<rect x="747.45" y="329.10" width="4.70" height="26.90" fill="#089981"/>
<rect x="754.50" y="316.10" width="1" height="15.40" fill="#089981"/>
<rect x="752.65" y="326.00" width="4.70" height="4.00" fill="#089981"/>
<rect x="759.70" y="287.60" width="1" height="50.20" fill="#089981"/>
<rect x="757.85" y="297.00" width="4.70" height="29.00" fill="#089981"/>
<rect x="764.90" y="289.90" width="1" height="13.70" fill="#f23645"/>
<rect x="763.05" y="297.00" width="4.70" height="5.00" fill="#f23645"/>
<rect x="770.10" y="296.10" width="1" height="40.60" fill="#f23645"/>
<rect x="768.25" y="301.20" width="4.70" height="30.00" fill="#f23645"/>
<rect x="775.30" y="329.10" width="1" height="32.80" fill="#f23645"/>
<rect x="773.45" y="330.80" width="4.70" height="8.20" fill="#f23645"/>
<rect x="780.50" y="336.20" width="1" height="24.50" fill="#f23645"/>
<rect x="778.65" y="338.30" width="4.70" height="22.40" fill="#f23645"/>
<rect x="785.70" y="350.80" width="1" height="49.60" fill="#089981"/>
<rect x="783.85" y="359.10" width="4.70" height="1.60" fill="#089981"/>
<rect x="790.90" y="337.80" width="1" height="45.40" fill="#f23645"/>
<rect x="789.05" y="358.60" width="4.70" height="24.60" fill="#f23645"/>
<rect x="796.10" y="350.80" width="1" height="31.90" fill="#089981"/>
<rect x="794.25" y="356.00" width="4.70" height="26.70" fill="#089981"/>
<rect x="801.30" y="352.00" width="1" height="24.80" fill="#f23645"/>
<rect x="799.45" y="356.00" width="4.70" height="14.20" fill="#f23645"/>
<rect x="806.50" y="356.70" width="1" height="20.10" fill="#089981"/>
<rect x="804.65" y="361.00" width="4.70" height="9.20" fill="#089981"/>
<rect x="811.70" y="357.40" width="1" height="21.30" fill="#089981"/>
<rect x="809.85" y="359.60" width="4.70" height="2.30" fill="#089981"/>
<rect x="816.90" y="355.50" width="1" height="14.90" fill="#f23645"/>
<rect x="815.05" y="359.60" width="4.70" height="8.50" fill="#f23645"/>
<rect x="822.10" y="355.50" width="1" height="18.20" fill="#089981"/>
<rect x="820.25" y="365.50" width="4.70" height="2.60" fill="#089981"/>
<rect x="827.30" y="341.40" width="1" height="24.70" fill="#089981"/>
<rect x="825.45" y="355.00" width="4.70" height="11.10" fill="#089981"/>
<rect x="832.50" y="355.00" width="1" height="17.00" fill="#f23645"/>
<rect x="830.65" y="355.00" width="4.70" height="17.00" fill="#f23645"/>
<rect x="837.70" y="352.50" width="1" height="21.30" fill="#089981"/>
<rect x="835.85" y="355.60" width="4.70" height="16.40" fill="#089981"/>
<rect x="842.90" y="355.60" width="1" height="29.70" fill="#f23645"/>
<rect x="841.05" y="355.60" width="4.70" height="29.70" fill="#f23645"/>
<rect x="848.10" y="375.00" width="1" height="35.90" fill="#f23645"/>
<rect x="846.25" y="384.40" width="4.70" height="13.00" fill="#f23645"/>
<rect x="853.30" y="371.00" width="1" height="26.40" fill="#089981"/>
<rect x="851.45" y="373.30" width="4.70" height="24.10" fill="#089981"/>
<rect x="858.50" y="362.70" width="1" height="17.70" fill="#089981"/>
<rect x="856.65" y="369.60" width="4.70" height="4.90" fill="#089981"/>
<rect x="863.70" y="346.20" width="1" height="29.30" fill="#089981"/>
<rect x="861.85" y="349.70" width="4.70" height="20.60" fill="#089981"/>
<rect x="868.90" y="329.00" width="1" height="21.90" fill="#089981"/>
<rect x="867.05" y="337.20" width="4.70" height="13.70" fill="#089981"/>
<rect x="874.10" y="313.60" width="1" height="26.40" fill="#089981"/>
<rect x="872.25" y="337.20" width="4.70" height="1.20" fill="#089981"/>
<rect x="879.30" y="313.60" width="1" height="24.80" fill="#089981"/>
<rect x="877.45" y="319.50" width="4.70" height="18.90" fill="#089981"/>
<rect x="884.50" y="319.50" width="1" height="18.20" fill="#f23645"/>
<rect x="882.65" y="319.50" width="4.70" height="1.70" fill="#f23645"/>
<rect x="889.70" y="308.40" width="1" height="21.30" fill="#f23645"/>
<rect x="887.85" y="320.20" width="4.70" height="9.50" fill="#f23645"/>
<rect x="894.90" y="323.00" width="1" height="10.10" fill="#f23645"/>
<rect x="893.05" y="328.60" width="4.70" height="4.50" fill="#f23645"/>
</g>
<line x1="9" y1="333.4" x2="950" y2="333.4" stroke="#f23645" stroke-width="1" stroke-dasharray="1.1 1.43" opacity="0.9"/>
<g fill="#b9b9b9" stroke="#b9b9b9" stroke-width="0.3" font-size="10">
<text x="957.7" y="34.1" textLength="49.5" lengthAdjust="spacingAndGlyphs">116,750.00</text>
<text x="957.7" y="63.1" textLength="49.5" lengthAdjust="spacingAndGlyphs">116,500.00</text>
<text x="957.7" y="92.1" textLength="49.5" lengthAdjust="spacingAndGlyphs">116,250.00</text>
<text x="957.7" y="121.1" textLength="49.5" lengthAdjust="spacingAndGlyphs">116,000.00</text>
<text x="957.7" y="150.1" textLength="49.5" lengthAdjust="spacingAndGlyphs">115,750.00</text>
<text x="957.7" y="179.1" textLength="49.5" lengthAdjust="spacingAndGlyphs">115,500.00</text>
<text x="957.7" y="208.1" textLength="49.5" lengthAdjust="spacingAndGlyphs">115,250.00</text>
<text x="957.7" y="237.1" textLength="49.5" lengthAdjust="spacingAndGlyphs">115,000.00</text>
<text x="957.7" y="266.1" textLength="49.5" lengthAdjust="spacingAndGlyphs">114,750.00</text>
<text x="957.7" y="295.1" textLength="49.5" lengthAdjust="spacingAndGlyphs">114,500.00</text>
<text x="957.7" y="324.1" textLength="49.5" lengthAdjust="spacingAndGlyphs">114,250.00</text>
<text x="957.7" y="353.1" textLength="49.5" lengthAdjust="spacingAndGlyphs">114,000.00</text>
<text x="957.7" y="382.1" textLength="49.5" lengthAdjust="spacingAndGlyphs">113,750.00</text>
<text x="957.7" y="411.1" textLength="49.5" lengthAdjust="spacingAndGlyphs">113,500.00</text>
<text x="957.7" y="440.1" textLength="49.5" lengthAdjust="spacingAndGlyphs">113,250.00</text>
<text x="957.7" y="469.1" textLength="49.5" lengthAdjust="spacingAndGlyphs">113,000.00</text>
<text x="957.7" y="498.1" textLength="49.5" lengthAdjust="spacingAndGlyphs">112,750.00</text>
</g>
<rect x="950.5" y="326.3" width="61.5" height="26.3" fill="#f23645"/>
<text x="957.7" y="336.2" font-size="10" fill="#ffffff" stroke="#ffffff" stroke-width="0.3" textLength="49.5" lengthAdjust="spacingAndGlyphs">114,150.30</text>
<text x="957.7" y="347.4" font-size="10" fill="#ffd9dc" stroke="#ffd9dc" stroke-width="0.25" textLength="24.3" lengthAdjust="spacingAndGlyphs">01:49</text>
<rect x="950.5" y="505.3" width="22.5" height="13.4" fill="#ef5350"/>
<text x="957.2" y="515.7" font-size="10" fill="#ffffff" stroke="#ffffff" stroke-width="0.3" textLength="11" lengthAdjust="spacingAndGlyphs">45</text>
<g fill="#b9b9b9" stroke="#b9b9b9" stroke-width="0.3" font-size="10" text-anchor="middle">
<text x="42.6" y="533.5" textLength="24.8" lengthAdjust="spacingAndGlyphs">15:00</text>
<text x="105.0" y="533.5" textLength="24.8" lengthAdjust="spacingAndGlyphs">18:00</text>
<text x="167.4" y="533.5" textLength="24.8" lengthAdjust="spacingAndGlyphs">21:00</text>
<text x="229.8" y="533.5" font-weight="bold" stroke-width="0" textLength="11.0" lengthAdjust="spacingAndGlyphs">27</text>
<text x="292.2" y="533.5" textLength="24.8" lengthAdjust="spacingAndGlyphs">03:00</text>
<text x="354.6" y="533.5" textLength="24.8" lengthAdjust="spacingAndGlyphs">06:00</text>
<text x="417.0" y="533.5" textLength="24.8" lengthAdjust="spacingAndGlyphs">09:00</text>
<text x="479.4" y="533.5" textLength="24.8" lengthAdjust="spacingAndGlyphs">12:00</text>
<text x="541.8" y="533.5" textLength="24.8" lengthAdjust="spacingAndGlyphs">15:00</text>
<text x="604.2" y="533.5" textLength="24.8" lengthAdjust="spacingAndGlyphs">18:00</text>
<text x="666.6" y="533.5" textLength="24.8" lengthAdjust="spacingAndGlyphs">21:00</text>
<text x="729.0" y="533.5" font-weight="bold" stroke-width="0" textLength="11.0" lengthAdjust="spacingAndGlyphs">28</text>
<text x="791.4" y="533.5" textLength="24.8" lengthAdjust="spacingAndGlyphs">03:00</text>
<text x="853.8" y="533.5" textLength="24.8" lengthAdjust="spacingAndGlyphs">06:00</text>
<text x="916.2" y="533.5" textLength="24.8" lengthAdjust="spacingAndGlyphs">09:00</text>
</g>
<g font-size="10.3" font-weight="bold">
<text x="8.8" y="15.6" fill="#d4d4d4" textLength="32.9" lengthAdjust="spacingAndGlyphs">flua003</text>
<text x="44.7" y="15.6" fill="#d4d4d4" textLength="35.1" lengthAdjust="spacingAndGlyphs">created</text>
<text x="83.2" y="15.6" fill="#d4d4d4" textLength="18.1" lengthAdjust="spacingAndGlyphs">with</text>
<text x="106.2" y="15.6" fill="#d4d4d4" textLength="79.7" lengthAdjust="spacingAndGlyphs">TradingView.com,</text>
<text x="189.8" y="15.6" fill="#d4d4d4" textLength="17.2" lengthAdjust="spacingAndGlyphs">Oct</text>
<text x="211.3" y="15.6" fill="#d4d4d4" textLength="11.4" lengthAdjust="spacingAndGlyphs">28,</text>
<text x="226.0" y="15.6" fill="#d4d4d4" textLength="20.1" lengthAdjust="spacingAndGlyphs">2025</text>
<text x="250.0" y="15.6" fill="#d4d4d4" textLength="23.8" lengthAdjust="spacingAndGlyphs">08:13</text>
<text x="278.1" y="15.6" fill="#d4d4d4" textLength="17.8" lengthAdjust="spacingAndGlyphs">UTC</text>
</g>
<g font-size="10">
<text x="15.3" y="38.1" fill="#b9b9b9" stroke="#b9b9b9" stroke-width="0.3" textLength="30.8" lengthAdjust="spacingAndGlyphs">Bitcoin</text>
<text x="51.8" y="38.1" fill="#b9b9b9" stroke="#b9b9b9" stroke-width="0.3" textLength="3.4" lengthAdjust="spacingAndGlyphs">/</text>
<text x="58.8" y="38.1" fill="#b9b9b9" stroke="#b9b9b9" stroke-width="0.3" textLength="39.5" lengthAdjust="spacingAndGlyphs">TetherUS</text>
<text x="103.5" y="38.1" fill="#b9b9b9" stroke="#b9b9b9" stroke-width="0.3" text-anchor="middle">·</text>
<text x="109.0" y="38.1" fill="#b9b9b9" stroke="#b9b9b9" stroke-width="0.3" textLength="10.0" lengthAdjust="spacingAndGlyphs">15</text>
<text x="123.9" y="38.1" fill="#b9b9b9" stroke="#b9b9b9" stroke-width="0.3" text-anchor="middle">·</text>
<text x="129.1" y="38.1" fill="#b9b9b9" stroke="#b9b9b9" stroke-width="0.3" textLength="35.1" lengthAdjust="spacingAndGlyphs">Binance</text>
<text x="170.6" y="38.1" fill="#b9b9b9" stroke="#b9b9b9" stroke-width="0.3" textLength="6.3" lengthAdjust="spacingAndGlyphs">O</text>
<text x="177.9" y="38.1" fill="#f23645" stroke="#f23645" stroke-width="0.3" textLength="49.0" lengthAdjust="spacingAndGlyphs">114,188.38</text>
<text x="233.5" y="38.1" fill="#b9b9b9" stroke="#b9b9b9" stroke-width="0.3" textLength="6.2" lengthAdjust="spacingAndGlyphs">H</text>
<text x="241.0" y="38.1" fill="#f23645" stroke="#f23645" stroke-width="0.3" textLength="49.0" lengthAdjust="spacingAndGlyphs">114,236.45</text>
<text x="296.0" y="38.1" fill="#b9b9b9" stroke="#b9b9b9" stroke-width="0.3" textLength="4.6" lengthAdjust="spacingAndGlyphs">L</text>
<text x="301.5" y="38.1" fill="#f23645" stroke="#f23645" stroke-width="0.3" textLength="49.0" lengthAdjust="spacingAndGlyphs">114,150.29</text>
<text x="357.0" y="38.1" fill="#b9b9b9" stroke="#b9b9b9" stroke-width="0.3" textLength="5.8" lengthAdjust="spacingAndGlyphs">C</text>
<text x="363.5" y="38.1" fill="#f23645" stroke="#f23645" stroke-width="0.3" textLength="49.3" lengthAdjust="spacingAndGlyphs">114,150.30</text>
<text x="419.8" y="38.1" fill="#f23645" stroke="#f23645" stroke-width="0.3" textLength="28.7" lengthAdjust="spacingAndGlyphs">−38.07</text>
<text x="453.2" y="38.1" fill="#f23645" stroke="#f23645" stroke-width="0.3" textLength="37.1" lengthAdjust="spacingAndGlyphs">(−0.03%)</text>
<text x="15.3" y="52.7" fill="#b9b9b9" stroke="#b9b9b9" stroke-width="0.3" textLength="13.2" lengthAdjust="spacingAndGlyphs">Vol</text>
<text x="33.6" y="52.7" fill="#b9b9b9" stroke="#b9b9b9" stroke-width="0.3" text-anchor="middle">·</text>
<text x="38.8" y="52.7" fill="#b9b9b9" stroke="#b9b9b9" stroke-width="0.3" textLength="17.5" lengthAdjust="spacingAndGlyphs">BTC</text>
<text x="62.2" y="52.7" fill="#e0474a" stroke="#e0474a" stroke-width="0.3" textLength="10.7" lengthAdjust="spacingAndGlyphs">45</text>
</g>
<g>
<circle cx="895.35" cy="508.05" r="9.3" fill="#0c0c0c"/>
<circle cx="895.35" cy="508.05" r="8.2" fill="none" stroke="#a346c0" stroke-width="1.6"/>
<circle cx="901.20" cy="502.40" r="3.7" fill="#0c0c0c"/>
<circle cx="901.20" cy="502.40" r="2.45" fill="#f23645"/>
<path d="M897.75 503.55 L891.75 508.65 L895.15 508.65 L892.50 512.95 L899.15 507.90 L896.00 507.90 Z" fill="#a346c0" stroke="#a346c0" stroke-width="0.2" stroke-linejoin="round"/>
</g>
<g transform="translate(10.2,558.6) scale(0.704)" fill="#dcdcdc">
<path d="M14 22H7V11H0V4h14v18z"/><circle cx="20" cy="8" r="4"/><path d="M28 22h-8l7.5-18h8L28 22z"/>
</g>
<text x="41.2" y="573.7" font-size="18.3" font-weight="bold" fill="#dcdcdc" textLength="101.8" lengthAdjust="spacingAndGlyphs">TradingView</text>
</g>
</svg>
</body></html>
